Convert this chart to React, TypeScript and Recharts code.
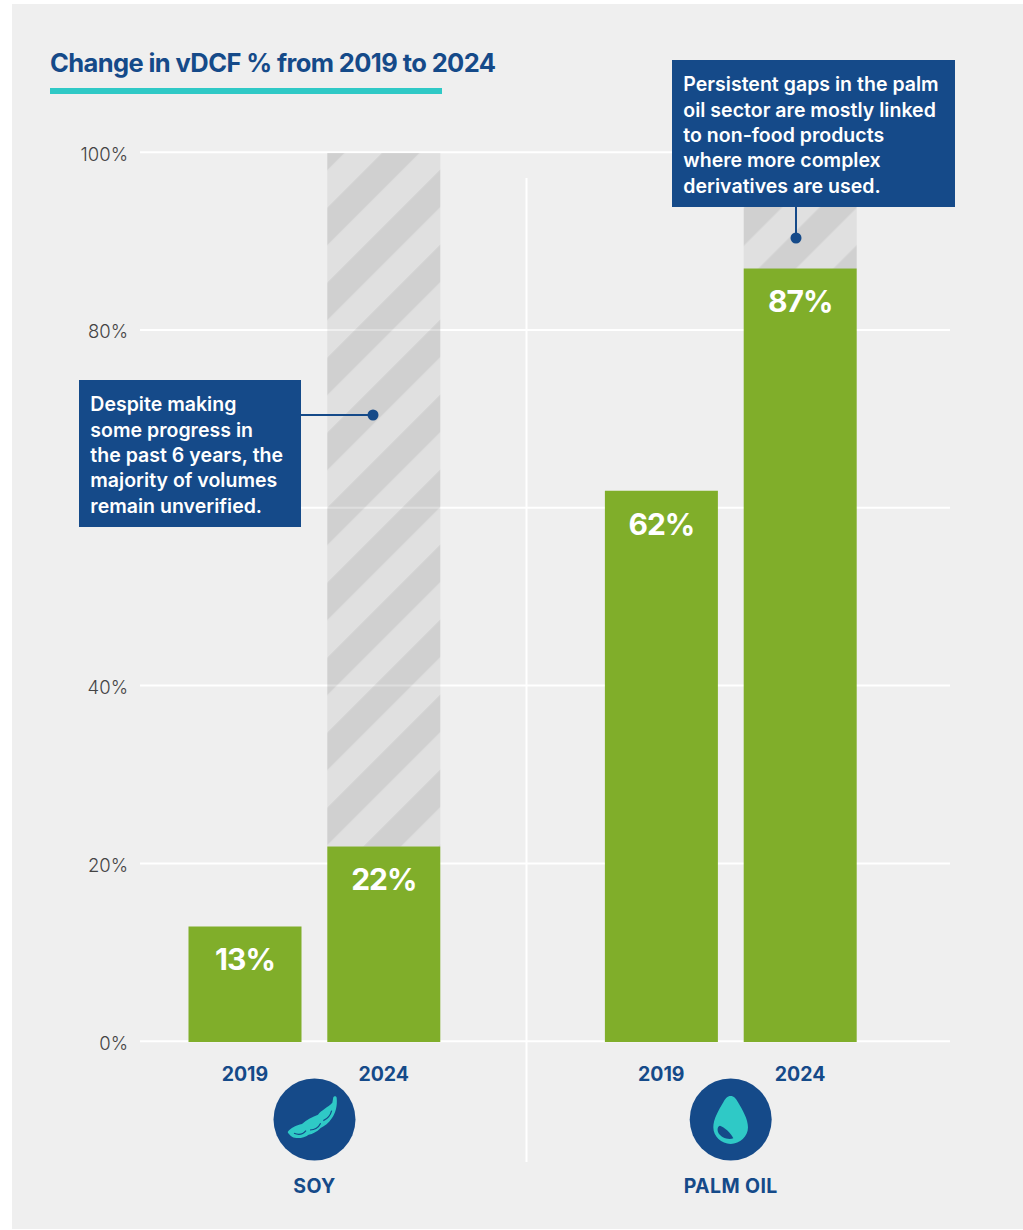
import React from 'react';
import { BarChart, Bar, XAxis, YAxis, CartesianGrid, LabelList } from 'recharts';

// Verified volumes per commodity and year; the blank slot separates the two groups.
const slots = ['soy2019', 'soy2024', 'gap', 'palm2019', 'palm2024'];
const years = ['2019', '2024', '', '2019', '2024'];
const verified = [13, 22, null, 62, 87];
const unverified = [null, 78, null, null, 13];
const yTicks = [0, 20, 40, 60, 80, 100];
// The 60% label sits behind the soy note, so it is left unprinted.
const hiddenTickLabels = [60];

const title = 'Change in vDCF % from 2019 to 2024';
const soyNote = ['Despite making', 'some progress in', 'the past 6 years, the', 'majority of volumes', 'remain unverified.'];
const palmNote = ['Persistent gaps in the palm', 'oil sector are mostly linked', 'to non-food products', 'where more complex', 'derivatives are used.'];

const rows = slots.map((slot, i) => ({ slot, year: years[i], verified: verified[i], unverified: unverified[i] }));

const NAVY = '#154a89';
const TEAL = '#2fc9c6';
const GREEN = '#80ae2a';
const FONT = 'Inter, sans-serif';

const Hatch = ({ id, start }: { id: string; start: number }) => (
  <pattern id={id} patternUnits="userSpaceOnUse" width={53.03} height={53.03} patternTransform="rotate(45)">
    <rect width={53.03} height={53.03} fill="rgba(0,0,0,0.063)" />
    <rect x={start} width={26.52} height={53.03} fill="rgba(0,0,0,0.072)" />
    <rect x={start - 53.03} width={26.52} height={53.03} fill="rgba(0,0,0,0.072)" />
  </pattern>
);

// Bars take a different stripe phase so each one starts as drawn on its own column.
const HatchBar = (props: any) => {
  const { x, y, width, height, payload } = props;
  if (!height) return null;
  const id = payload.slot === 'soy2024' ? 'hatchSoy' : 'hatchPalm';
  return <rect x={x} y={y} width={width} height={height} fill={`url(#${id})`} />;
};

// Grid rules sit just above their scale position.
const GridRule = (props: any) => {
  const { x1, x2, y1, y2 } = props;
  return <line x1={x1} x2={x2} y1={y1 - 0.8} y2={y2 - 0.8} stroke="#ffffff" strokeWidth={2} />;
};

const Note = ({ lines, left, top, width }: { lines: string[]; left: number; top: number; width: number }) => (
  <div
    style={{
      position: 'absolute', left, top, width, height: 147, boxSizing: 'border-box', background: NAVY,
      color: '#fff', padding: '12.2px 0 0 11.3px', fontFamily: FONT, fontWeight: 600, fontSize: 19.5,
      lineHeight: '25.35px', letterSpacing: '0.02px', whiteSpace: 'nowrap',
    }}
  >
    {lines.map((line) => <div key={line}>{line}</div>)}
  </div>
);

const GroupName = ({ text, center }: { text: string; center: number }) => (
  <div
    style={{
      position: 'absolute', left: center - 80, width: 160, top: 1174, textAlign: 'center', color: NAVY,
      fontFamily: FONT, fontWeight: 700, fontSize: 19.5, lineHeight: '24px', letterSpacing: '0.4px',
    }}
  >
    {text}
  </div>
);

export default function App() {
  return (
    <div style={{ position: 'absolute', left: 0, top: 0, width: 1023, height: 1230, background: '#fff', overflow: 'hidden' }}>
      <div style={{ position: 'absolute', left: 12, top: 4, width: 1011, height: 1225, background: '#efefef' }} />
      <div
        style={{
          position: 'absolute', left: 50, top: 46, color: NAVY, fontFamily: FONT, fontWeight: 700, fontSize: 25.5,
          lineHeight: '34px', letterSpacing: '-0.6px', whiteSpace: 'nowrap',
        }}
      >
        {title}
      </div>
      <div style={{ position: 'absolute', left: 50, top: 88, width: 392, height: 6, background: TEAL }} />

      <div style={{ position: 'absolute', left: 0, top: 0 }}>
        <svg width={0} height={0} style={{ position: 'absolute' }}>
          <defs>
            <Hatch id="hatchSoy" start={7.07} />
            <Hatch id="hatchPalm" start={36.77} />
          </defs>
        </svg>
        <BarChart
          width={1023}
          height={1230}
          data={rows}
          barSize={113}
          margin={{ top: 153, right: 73, bottom: 0, left: 0 }}
        >
          <CartesianGrid vertical={false} horizontal={<GridRule />} />
          <XAxis
            dataKey="slot"
            height={188}
            interval={0}
            padding={{ left: 35.5, right: 80.5 }}
            axisLine={false}
            tickLine={false}
            tickMargin={19}
            tickFormatter={(_v: string, i: number) => years[i]}
            tick={{ fill: NAVY, fontFamily: FONT, fontWeight: 700, fontSize: 19.5 }}
          />
          <YAxis
            width={140}
            domain={[0, 100]}
            ticks={yTicks}
            axisLine={false}
            tickLine={false}
            tickMargin={6}
            tickFormatter={(v: number) => (hiddenTickLabels.includes(v) ? '' : `${v}%`)}
            tick={{ fill: '#444444', fontFamily: FONT, fontWeight: 300, fontSize: 18.5, dy: 1 }}
          />
          <Bar dataKey="verified" stackId="share" fill={GREEN} isAnimationActive={false}>
            <LabelList
              dataKey="verified"
              position="insideTop"
              offset={22.5}
              formatter={(v: number) => (v == null ? '' : `${v}%`)}
              style={{ fill: '#fff', fontFamily: FONT, fontWeight: 700, fontSize: 30, letterSpacing: '-1px' }}
            />
          </Bar>
          <Bar dataKey="unverified" stackId="share" isAnimationActive={false} shape={<HatchBar />} />
        </BarChart>
      </div>

      <svg width={1023} height={1230} style={{ position: 'absolute', left: 0, top: 0 }}>
        <line x1={526.5} x2={526.5} y1={178} y2={1162} stroke="#fff" strokeWidth={2} />
        <line x1={301} x2={373} y1={415} y2={415} stroke={NAVY} strokeWidth={2} />
        <circle cx={373} cy={415} r={5.5} fill={NAVY} />
        <line x1={796} x2={796} y1={207} y2={238} stroke={NAVY} strokeWidth={2} />
        <circle cx={796} cy={238} r={5.5} fill={NAVY} />

        <circle cx={314.5} cy={1119.5} r={41} fill={NAVY} />
        <g transform="translate(180,1000) scale(0.3333)">
          <path
            d="M323 396 C332 384 348 376 366 372 C380 358 398 350 414 344 C424 330 444 322 457 308 L460 292 C462 287 469 288 470 293 C473 318 466 340 456 354 C446 370 434 378 422 384 C410 396 398 402 386 404 C372 414 350 418 336 410 C330 406 326 402 323 396 Z"
            fill={TEAL}
          />
          <path d="M342 400 C356 406 370 402 378 392 M390 390 C404 390 416 382 422 370 M430 362 C444 356 452 344 455 332" stroke={NAVY} strokeWidth={3.5} fill="none" />
        </g>

        <circle cx={730.7} cy={1119.5} r={41} fill={NAVY} />
        <g transform="translate(600,1000) scale(0.3333)">
          <path
            d="M392 288 C402 288 408 296 414 307 C428 330 444 358 444 382 C444 410 420 432 392 432 C364 432 340 410 340 382 C340 358 356 330 370 307 C376 296 382 288 392 288 Z"
            fill={TEAL}
          />
          <path d="M360 377 C372 380 394 400 400 415 C385 420 362 414 354 396 C351 386 354 378 360 377 Z" fill={NAVY} />
        </g>
      </svg>

      <Note lines={soyNote} left={79} top={380} width={222} />
      <Note lines={palmNote} left={672} top={60} width={283} />
      <GroupName text="SOY" center={314.5} />
      <GroupName text="PALM OIL" center={730.7} />
    </div>
  );
}
